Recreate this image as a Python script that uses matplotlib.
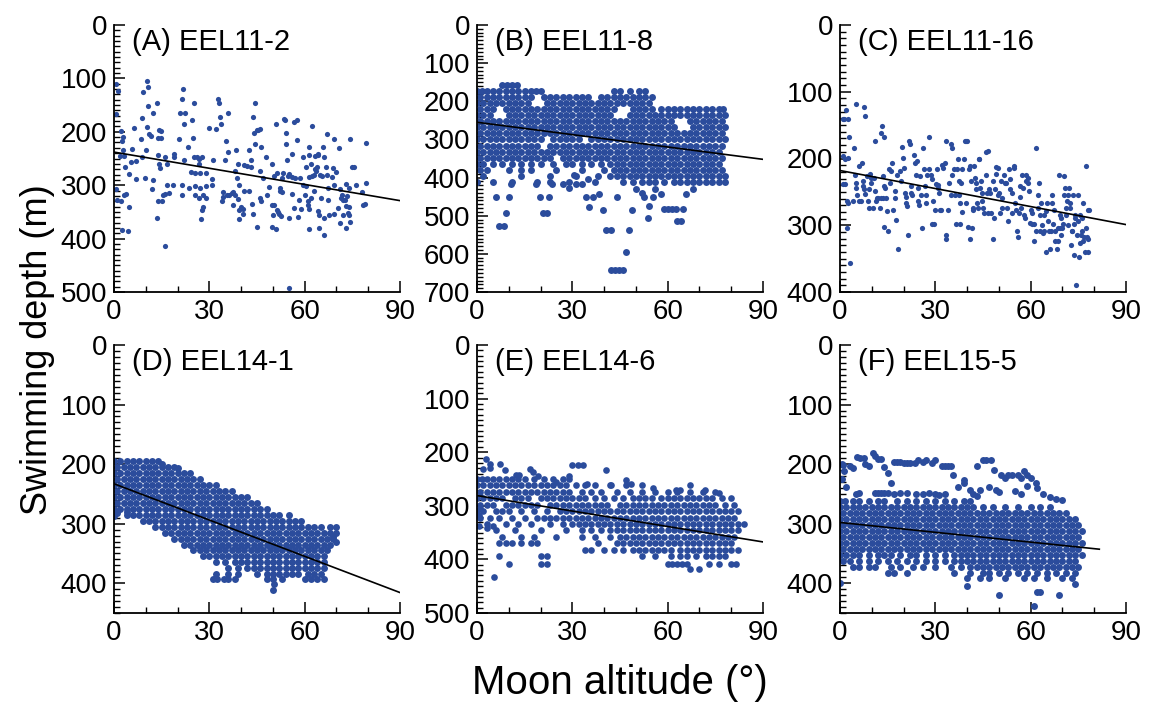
import matplotlib
matplotlib.use("Agg")
import matplotlib.pyplot as plt
from matplotlib.ticker import MultipleLocator

plt.rcParams['font.family'] = ['Liberation Sans', 'DejaVu Sans']

dot_color = '#2b4c9c'

# panel labels
titles = ["(A) EEL11-2", "(B) EEL11-8", "(C) EEL11-16",
          "(D) EEL14-1", "(E) EEL14-6", "(F) EEL15-5"]
ymax = [500, 700, 400, 450, 500, 450]
ytop_tick = [500, 700, 400, 400, 500, 400]

# regression lines: intercept (m), slope (m per degree), last altitude
fit_b0 = [238, 255, 218, 233, 281, 298]
fit_b1 = [1.01, 1.08, 0.90, 2.03, 0.96, 0.55]
fit_end = [90, 90, 90, 90, 90, 81.6]

# (A) sparse points: (moon altitude, depth)
A_points = [(0.6, 110), (1.4, 124), (0.6, 167), (2.1, 198), (2.7, 209), (2.5, 217), (2.9, 234), (1.9, 245),
    (3.2, 245), (0.6, 307), (1.0, 327), (2.1, 329), (2.5, 384), (4.4, 385), (4.8, 341), (3.2, 318),
    (3.8, 316), (3.6, 265), (4.8, 279), (5.5, 257), (5.6, 233), (6.9, 288), (6.9, 255), (6.3, 192),
    (8.4, 213), (8.8, 247), (8.7, 174), (9.2, 125), (10.7, 116), (10.3, 105), (10.8, 151), (10.3, 191),
    (11.1, 204), (11.6, 208), (9.8, 286), (10.0, 235), (12.4, 164), (12.4, 291), (11.9, 307), (13.4, 147),
    (13.7, 243), (14.1, 261), (14.5, 267), (14.7, 211), (14.0, 212), (14.3, 196), (14.8, 198), (13.7, 329),
    (13.4, 362), (15.1, 329), (15.3, 318), (16.0, 316), (16.2, 248), (16.6, 261), (15.9, 414), (16.6, 299),
    (17.2, 315), (18.5, 299), (18.9, 247), (18.9, 241), (20.4, 213), (20.8, 164), (21.3, 139), (21.8, 120),
    (22.3, 164), (22.1, 186), (22.1, 253), (21.4, 299), (21.4, 318), (23.7, 306), (23.3, 228), (24.8, 212),
    (25.1, 147), (24.4, 177), (24.2, 276), (25.3, 247), (25.4, 277), (25.4, 301), (25.6, 318), (26.0, 247),
    (26.7, 250), (26.9, 261), (27.1, 277), (26.9, 324), (27.1, 306), (27.8, 247), (27.9, 318), (27.7, 346),
    (28.1, 340), (27.3, 363), (28.8, 278), (29.0, 302), (28.8, 324), (29.8, 193), (30.9, 299), (30.9, 288),
    (31.3, 253), (32.1, 195), (32.7, 138), (33.0, 147), (33.2, 172), (33.6, 186), (34.0, 329), (34.4, 313),
    (34.4, 323), (35.0, 253), (35.3, 217), (35.5, 319), (36.0, 164), (35.9, 238), (36.1, 318), (37.2, 315),
    (37.6, 313), (38.0, 318), (37.6, 338), (38.2, 274), (38.4, 234), (38.6, 287), (39.0, 326), (39.1, 261),
    (39.3, 300), (39.3, 347), (39.3, 363), (40.1, 341), (40.5, 353), (40.7, 345), (41.0, 311), (41.0, 263),
    (41.8, 264), (42.4, 311), (42.5, 234), (43.1, 253), (43.1, 266), (43.3, 335), (43.7, 353), (43.7, 173),
    (44.1, 203), (44.3, 147), (44.5, 223), (44.9, 197), (44.9, 379), (45.4, 196), (45.8, 274), (46.0, 195),
    (46.4, 228), (46.0, 324), (46.2, 329), (46.8, 287), (47.9, 248), (48.1, 319), (48.7, 304), (49.6, 261),
    (49.8, 337), (50.0, 355), (49.8, 379), (50.2, 283), (50.4, 338), (51.0, 186), (51.2, 277), (51.0, 382),
    (51.2, 346), (51.7, 350), (52.1, 305), (51.9, 353), (52.3, 310), (52.5, 357), (52.9, 313), (52.9, 286),
    (53.1, 277), (53.6, 176), (53.9, 178), (54.2, 203), (54.2, 223), (54.4, 252), (54.6, 283), (55.0, 362),
    (55.2, 279), (55.9, 242), (55.9, 316), (56.1, 285), (56.5, 182), (56.7, 343), (57.1, 286), (57.5, 178),
    (57.5, 216), (57.8, 359), (58.2, 328), (58.4, 286), (58.8, 345), (59.4, 248), (59.6, 299), (60.1, 318),
    (60.5, 266), (60.5, 301), (60.9, 338), (61.1, 330), (61.3, 228), (61.3, 243), (61.3, 285), (61.5, 344),
    (61.5, 382), (62.0, 324), (62.0, 261), (62.2, 282), (62.4, 189), (62.8, 280), (62.8, 310), (63.2, 245),
    (63.4, 270), (63.6, 274), (63.8, 266), (64.1, 243), (64.3, 241), (64.1, 349), (64.5, 381), (64.5, 355),
    (64.9, 280), (65.1, 324), (65.5, 283), (65.7, 228), (66.2, 247), (66.2, 362), (66.2, 394), (66.8, 266),
    (67.0, 204), (67.0, 280), (67.2, 306), (67.4, 327), (67.6, 355), (68.5, 285), (69.1, 214), (68.9, 268),
    (69.1, 353), (69.3, 300), (69.9, 276), (70.4, 342), (70.8, 230), (71.0, 308), (71.2, 371), (71.4, 324),
    (71.6, 318), (72.0, 327), (72.2, 355), (72.7, 327), (72.9, 380), (73.1, 297), (73.1, 339), (73.3, 321),
    (73.5, 352), (73.9, 355), (73.9, 341), (74.1, 305), (74.3, 213), (74.3, 369), (75.0, 265), (75.4, 265),
    (76.2, 299), (77.9, 313), (78.5, 338), (78.9, 335), (79.2, 221), (79.2, 296), (55.0, 492)]

# (C) sparse points
C_points = [(0.8, 141), (1.4, 141), (2.4, 141), (1.9, 128), (0.8, 196), (1.7, 200), (2.4, 199), (2.9, 168),
    (1.0, 238), (1.7, 238), (2.1, 264), (2.4, 267), (2.1, 304), (3.1, 357), (4.0, 264), (4.4, 184),
    (5.0, 119), (4.8, 224), (5.0, 236), (5.0, 244), (5.5, 254), (5.9, 211), (6.1, 264), (6.5, 264),
    (6.9, 206), (7.3, 233), (7.1, 241), (7.5, 123), (8.0, 136), (7.6, 246), (8.0, 253), (8.4, 226),
    (8.8, 264), (9.0, 274), (9.4, 223), (9.2, 246), (9.6, 236), (9.8, 229), (10.5, 274), (10.8, 229),
    (10.9, 174), (11.1, 249), (11.3, 264), (11.8, 259), (12.1, 259), (12.6, 274), (13.0, 259), (13.4, 259),
    (12.8, 162), (13.2, 151), (13.8, 168), (13.6, 226), (13.8, 241), (14.2, 244), (14.5, 259), (14.9, 279),
    (13.7, 303), (15.1, 308), (15.5, 216), (16.0, 219), (15.7, 236), (16.5, 206), (16.8, 277), (17.2, 249),
    (17.4, 259), (17.6, 292), (18.2, 335), (17.8, 224), (18.8, 219), (19.3, 234), (19.5, 183), (19.7, 199),
    (20.2, 214), (20.3, 252), (20.7, 257), (20.7, 267), (21.0, 271), (21.4, 314), (21.8, 174), (22.0, 179),
    (22.2, 241), (22.4, 252), (22.8, 254), (23.2, 195), (23.7, 206), (23.9, 224), (24.1, 204), (24.5, 244),
    (24.7, 264), (24.9, 269), (25.1, 226), (25.5, 254), (25.8, 304), (26.0, 184), (26.4, 216), (26.8, 241),
    (27.0, 254), (27.2, 267), (27.4, 224), (27.9, 168), (28.1, 216), (28.5, 224), (28.9, 231), (29.1, 298),
    (29.3, 264), (29.7, 298), (29.9, 277), (30.2, 238), (30.4, 216), (30.8, 239), (30.8, 244), (31.2, 252),
    (31.4, 277), (31.8, 277), (32.0, 210), (32.5, 214), (32.9, 206), (33.3, 174), (33.5, 314), (33.5, 320),
    (33.9, 277), (34.3, 236), (34.8, 254), (35.0, 179), (35.2, 184), (35.4, 224), (35.8, 216), (36.2, 254),
    (36.6, 298), (36.9, 216), (37.1, 201), (37.3, 234), (37.5, 254), (37.7, 298), (37.9, 267), (38.1, 236),
    (38.3, 280), (38.5, 216), (39.0, 200), (39.2, 174), (39.6, 174), (40.0, 174), (39.8, 267), (40.2, 302),
    (40.6, 216), (40.8, 320), (41.0, 211), (41.3, 234), (41.7, 274), (41.5, 304), (41.9, 277), (42.3, 211),
    (42.5, 229), (42.7, 236), (42.9, 246), (43.1, 267), (43.4, 274), (43.6, 200), (43.8, 200), (44.2, 244),
    (44.4, 234), (44.6, 252), (44.8, 264), (45.0, 274), (45.4, 282), (45.9, 191), (46.1, 224), (46.3, 252),
    (46.5, 282), (46.7, 189), (46.9, 246), (47.3, 252), (47.5, 282), (48.0, 320), (48.2, 234), (48.4, 289),
    (48.8, 246), (49.0, 213), (49.2, 223), (49.6, 254), (49.8, 214), (50.0, 252), (50.5, 282), (50.7, 234),
    (51.1, 259), (51.1, 274), (51.5, 224), (51.9, 236), (52.1, 236), (52.6, 274), (52.8, 294), (53.2, 216),
    (53.4, 231), (53.6, 246), (54.0, 282), (54.2, 252), (54.7, 211), (54.9, 214), (55.1, 267), (55.3, 277),
    (55.7, 309), (55.9, 317), (56.3, 282), (56.5, 241), (56.8, 257), (57.0, 274), (57.4, 224), (57.6, 244),
    (57.8, 284), (58.2, 289), (58.4, 234), (58.6, 224), (59.1, 229), (59.3, 236), (59.5, 248), (59.7, 297),
    (60.1, 277), (60.3, 282), (60.5, 298), (60.9, 298), (61.1, 324), (61.6, 309), (61.8, 184), (62.2, 274),
    (62.4, 254), (62.6, 236), (62.8, 284), (63.0, 309), (63.2, 267), (63.5, 299), (63.9, 312), (64.1, 309),
    (64.3, 284), (64.7, 340), (64.9, 279), (65.1, 267), (65.3, 294), (65.8, 309), (66.2, 335), (66.4, 309),
    (66.6, 267), (66.8, 254), (67.0, 298), (67.4, 277), (67.6, 324), (67.8, 309), (68.3, 335), (68.5, 304),
    (68.7, 324), (68.9, 224), (69.1, 284), (69.3, 304), (69.5, 289), (69.7, 314), (69.9, 304), (70.1, 298),
    (70.4, 254), (70.6, 226), (70.8, 244), (71.0, 284), (71.2, 274), (71.4, 264), (71.6, 299), (71.8, 254),
    (72.0, 244), (72.3, 274), (72.5, 267), (72.7, 329), (72.9, 309), (73.1, 309), (73.3, 254), (73.5, 298),
    (73.7, 345), (73.9, 289), (74.1, 284), (74.3, 390), (74.6, 314), (74.8, 294), (75.0, 254), (75.2, 347),
    (75.4, 284), (75.6, 327), (75.8, 314), (76.0, 289), (76.2, 309), (76.4, 267), (76.6, 324), (76.9, 317),
    (77.1, 340), (77.3, 304), (77.5, 211), (77.7, 317), (77.9, 277), (78.1, 320), (78.3, 277), (77.9, 340)]

# (B) dense panel: depth rows (m) with the altitudes read along each row
B_rows = [
    (156, [8, 9.5, 11, 12.5]),
    (172, [0, 1.5, 3, 5, 7, 9, 11, 13, 15, 17, 18.5, 20, 43, 45, 48, 51, 53]),
    (188, [1, 3, 5, 7, 9, 11, 13, 15, 17, 21, 23, 25, 27, 29, 31, 33, 35, 39, 41, 43, 45, 47, 49, 51, 53, 55]),
    (204, [0, 2, 4, 6, 8, 10, 12, 14, 16, 22, 24, 26, 28, 30, 32, 34, 36, 38, 40, 42, 44, 46, 48, 50, 52, 54]),
    (220, [1, 3, 5, 9, 11, 13, 15, 17, 19, 21, 23, 25, 27, 29, 31, 33, 35, 37, 39, 41, 43, 49, 51, 53, 55, 58,
           60, 62, 64, 66, 68, 70, 72, 74, 76, 77.5]),
    (236, [0, 2, 4, 10, 12, 14, 16, 18, 20, 22, 24, 26, 28, 30, 32, 34, 36, 38, 40, 42, 48, 50, 52, 54, 56, 58,
           60, 62, 64, 66, 68, 70, 72, 74, 76, 78]),
    (252, [1, 3, 5, 7, 9, 11, 13, 15, 17, 19, 21, 23, 25, 27, 29, 31, 33, 35, 37, 39, 41, 43, 45, 47, 49, 51,
           53, 55, 57, 59, 61, 67, 69, 71, 73, 75, 77]),
    (268, [0, 2, 4, 6, 8, 10, 12, 14, 16, 18, 20, 22, 24, 26, 28, 30, 32, 34, 36, 38, 40, 42, 44, 46, 48, 50,
           52, 54, 56, 58, 60, 62, 68, 70, 72, 74, 76, 78]),
    (284, [1, 3, 5, 7, 9, 11, 13, 15, 17, 19, 21, 23, 25, 27, 29, 31, 33, 35, 37, 39, 41, 43, 45, 47, 49, 51,
           53, 55, 57, 59, 61, 63, 65, 67, 69, 71, 73, 75, 77]),
    (300, [0, 2, 4, 6, 8, 10, 12, 14, 16, 18, 20, 24, 26, 28, 30, 32, 36, 38, 40, 42, 44, 46, 48, 50, 52, 54,
           56, 58, 60, 62, 64, 66, 68, 70, 72, 74, 76, 78]),
    (316, [1, 3, 5, 7, 9, 11, 13, 15, 17, 19, 23, 25, 27, 29, 31, 33, 35, 37, 39, 41, 43, 45, 47, 49, 51, 53,
           55, 57, 59, 61, 63, 65, 67, 69, 71, 73, 75, 77]),
    (332, [0, 2, 4, 6, 8, 10, 12, 14, 16, 18, 20, 22, 24, 26, 28, 30, 32, 34, 36, 38, 40, 42, 44, 46, 48, 50,
           52, 54, 56, 58, 60, 62, 64, 66, 68, 70, 72, 74, 76]),
    (348, [1, 3, 5, 7, 9, 11, 13, 15, 17, 19, 21, 23, 27, 29, 31, 33, 35, 37, 39, 41, 43, 45, 47, 49, 51, 53,
           55, 57, 59, 61, 63, 65, 67, 69, 71, 73, 75, 77]),
    (364, [0, 2, 5, 8, 11, 14, 17, 20, 24, 28, 30, 33, 36, 39, 42, 44, 46, 48, 50, 52, 54, 56, 58, 60, 62, 64,
           66, 68, 70, 72, 74, 76]),
    (380, [1, 3, 10, 14, 17, 25, 33, 40, 43, 45, 47, 49, 51, 53, 55, 57, 59, 61, 63, 65, 67, 69, 71, 73, 75, 77]),
    (396, [2, 14, 23, 31, 38, 42, 44, 46, 48, 50, 52, 54, 56, 58, 60, 62, 64, 66, 68, 70, 72, 74, 76, 78]),
    (412, [0, 5, 11, 19, 23, 29, 37, 46, 49, 52, 54, 56, 59, 62, 64, 66, 68, 70, 72, 74, 76, 78]),
]
B_extra = [(6, 452), (10, 452), (9, 493), (7, 528), (8.4, 528), (10.8, 416), (19.7, 452), (22.6, 452),
    (20.7, 493), (22, 493), (23.6, 416), (18.5, 416), (34.3, 452), (36.4, 452), (35.4, 477), (39.5, 486),
    (40.6, 537), (42.2, 537), (42.2, 643), (43.5, 643), (44.8, 643), (46, 643), (46.9, 596), (47.9, 537),
    (48.7, 486), (43.9, 452), (38.5, 442), (52.7, 452), (53.8, 506), (54.2, 475), (55.3, 452), (58, 442),
    (58.9, 482), (60.2, 482), (61.4, 482), (62.6, 482), (62.8, 515), (64.1, 515), (64.9, 482), (65.7, 442),
    (29, 427), (30.6, 392), (27, 416), (31, 416), (33, 416), (35, 405), (50, 430), (52, 440), (56, 430),
    (68, 430)]

# (D) dense panel
D_rows = [
    (195, [0, 2, 4, 6, 8, 10, 12, 14]),
    (205, [1, 3, 5, 7, 9, 11, 13, 15, 17, 19]),
    (215, [0, 2, 4, 6, 8, 10, 12, 14, 16, 18, 20, 22, 24]),
    (225, [1, 3, 5, 7, 9, 11, 13, 15, 17, 19, 21, 23, 25, 27]),
    (235, [0, 2, 4, 6, 8, 10, 12, 14, 16, 18, 20, 22, 24, 26, 28, 30, 32]),
    (245, [1, 3, 5, 7, 9, 11, 13, 15, 17, 19, 21, 23, 25, 27, 29, 31, 33, 35, 37]),
    (255, [0, 2, 4, 6, 8, 10, 12, 14, 16, 18, 20, 22, 24, 26, 28, 30, 32, 34, 36, 38, 40, 42]),
    (265, [1, 3, 5, 7, 9, 11, 13, 15, 17, 19, 21, 23, 25, 27, 29, 31, 33, 35, 37, 39, 41, 43, 45]),
    (275, [0, 2, 4, 6, 8, 10, 12, 14, 16, 18, 20, 22, 24, 26, 28, 30, 32, 34, 36, 38, 40, 42, 44, 46, 48]),
    (285, [4, 6, 8, 10, 12, 14, 16, 18, 20, 22, 24, 26, 28, 30, 32, 34, 36, 38, 40, 42, 44, 46, 48, 50, 52, 55]),
    (295, [9, 11, 13, 15, 17, 19, 21, 23, 25, 27, 29, 31, 33, 35, 37, 39, 41, 43, 45, 47, 49, 51, 53, 55, 57, 59]),
    (305, [13, 15, 17, 19, 21, 23, 25, 27, 29, 31, 33, 35, 37, 39, 41, 43, 45, 47, 49, 51, 53, 55, 57, 59, 61,
           63, 65, 68, 70]),
    (315, [16, 18, 20, 22, 24, 26, 28, 30, 32, 34, 36, 38, 40, 42, 44, 46, 48, 50, 52, 54, 56, 58, 60, 62, 64,
           66, 68, 70]),
    (325, [19, 21, 23, 25, 27, 29, 31, 33, 35, 37, 39, 41, 43, 45, 47, 49, 51, 53, 55, 57, 59, 61, 63, 65, 67, 69]),
    (335, [22, 24, 26, 28, 30, 32, 34, 36, 38, 40, 42, 44, 46, 48, 50, 52, 54, 56, 58, 60, 62, 64, 66, 68]),
    (345, [25, 27, 29, 31, 33, 35, 37, 39, 41, 43, 45, 47, 49, 51, 53, 55, 57, 59, 61, 63, 65, 67]),
    (355, [28, 30, 32, 34, 36, 38, 40, 42, 44, 46, 48, 50, 52, 54, 56, 58, 60, 62, 64, 66]),
    (365, [32, 35, 38, 40, 42, 44, 46, 48, 50, 52, 54, 56, 58, 60, 62, 64, 66]),
    (375, [36, 39, 42, 44, 46, 48, 50, 52, 54, 56, 58, 60, 62, 64, 66]),
    (385, [32, 36, 39, 45, 48, 50, 52, 54, 56, 58, 61, 63, 65]),
    (393, [31, 32.5, 34.5, 36, 38, 48, 50, 53, 60, 62, 64, 66]),
]
D_extra = [(50, 411), (50.5, 402), (15, 200), (20, 207), (0, 287), (1, 282), (69, 322), (70, 330), (4, 280)]

# (E) dense panel
E_rows = [
    (250, [0, 1.5, 3, 5, 7, 9, 11, 13, 15, 18, 21, 24, 27, 29]),
    (262, [0, 2, 4, 6, 8, 10, 12, 14, 16, 18, 20, 22, 24, 26, 28, 31, 34, 37, 42, 47, 52]),
    (274, [1, 3, 5, 7, 9, 11, 13, 15, 17, 19, 21, 23, 25, 27, 29, 33, 36, 39, 44, 48, 52, 56, 60, 63, 67, 71, 75]),
    (286, [0, 2, 4, 6, 8, 12, 14, 16, 20, 22, 24, 26, 28, 30, 32, 34, 37, 40, 43, 46, 49, 51, 53, 55, 58, 60,
           62, 64, 66, 68, 70, 72, 74, 77, 80]),
    (298, [1, 3, 5, 9, 11, 13, 15, 17, 19, 23, 25, 27, 29, 31, 33, 35, 37, 39, 41, 45, 47, 49, 51, 53, 55, 57,
           59, 61, 63, 65, 67, 69, 71, 73, 75, 78, 81]),
    (310, [0, 2, 6, 8, 10, 14, 18, 22, 26, 28, 30, 32, 34, 36, 38, 40, 42, 44, 46, 48, 50, 52, 54, 56, 58, 60,
           62, 64, 66, 68, 70, 72, 74, 76, 78, 80, 82]),
    (322, [1, 4, 7, 11, 15, 19, 21, 23, 25, 27, 29, 31, 33, 35, 37, 39, 41, 43, 45, 47, 49, 51, 53, 55, 57, 59,
           61, 63, 65, 67, 69, 71, 73, 75, 77, 79, 81]),
    (334, [3, 9, 13, 17, 23, 27, 30, 32, 34, 36, 38, 40, 42, 44, 46, 48, 50, 52, 54, 56, 58, 60, 62, 64, 66, 68,
           70, 72, 74, 76, 78, 80, 82, 84]),
    (346, [6, 12, 20, 28, 33, 36, 39, 42, 44, 46, 48, 50, 52, 54, 56, 58, 60, 62, 64, 66, 68, 70, 72, 74, 76, 78,
           80, 82]),
    (358, [8, 14, 18, 25, 33, 37, 42, 45, 47, 49, 51, 53, 55, 57, 59, 61, 63, 65, 67, 69, 71, 73, 75, 77, 79, 81]),
    (370, [7, 9, 11, 14, 17, 19, 38, 44, 46, 48, 50, 52, 54, 56, 58, 60, 62, 64, 66, 68, 70, 72, 74, 76, 78, 80]),
    (382, [34, 36, 40, 43, 46, 49, 51, 53, 55, 57, 59, 61, 64, 66, 68, 70, 72, 74, 76, 78, 80, 82]),
    (394, [7, 20, 22, 52, 56, 61, 64, 66, 69, 72, 74, 76, 78]),
    (408, [10, 20, 22, 60, 61.5, 63, 64.5, 66, 73, 76, 80, 81.5]),
]
E_extra = [(2.7, 212), (1.9, 232), (4.2, 222), (4.2, 230), (7.3, 222), (8.9, 233), (12.2, 243), (13.2, 243),
    (16.6, 232), (17.6, 237), (19.2, 245), (25, 255), (28.8, 245), (30, 224), (31.7, 224), (33.4, 224),
    (34.6, 260), (40.7, 233), (42.3, 262), (47, 251), (48.6, 260), (55.4, 266), (62.7, 270), (63.8, 270),
    (67, 262), (71.7, 271), (76.2, 277), (67, 417), (70, 417), (5.5, 433), (0.5, 317), (0.5, 337), (3, 342),
    (5, 338), (1, 305)]

# (F) dense panel
F_rows = [
    (262, [0, 1.5, 4, 6, 9, 12, 14, 18, 21, 24, 27, 30, 33, 36, 39, 41]),
    (272, [0, 2, 4, 6, 8, 10, 12, 14, 16, 18, 20, 22, 24, 26, 28, 30, 32, 34, 36, 38, 40, 42, 45, 48, 52, 56,
           60, 63, 66]),
    (282, [1, 3, 5, 7, 9, 11, 13, 15, 17, 19, 21, 23, 25, 27, 29, 31, 33, 35, 37, 39, 41, 43, 45, 47, 49, 51,
           53, 55, 57, 59, 61, 63, 65, 67, 69, 71]),
    (292, [0, 2, 4, 6, 8, 10, 12, 14, 16, 18, 20, 22, 24, 26, 28, 30, 32, 34, 36, 38, 40, 42, 44, 46, 48, 50,
           52, 54, 56, 58, 60, 62, 64, 66, 68, 70, 72, 74]),
    (302, [1, 3, 5, 7, 9, 11, 13, 15, 17, 19, 21, 23, 25, 27, 29, 31, 33, 35, 37, 39, 41, 43, 45, 47, 49, 51,
           53, 55, 57, 59, 61, 63, 65, 67, 69, 71, 73, 75]),
    (312, [0, 2, 4, 6, 8, 10, 12, 14, 16, 18, 20, 22, 24, 26, 28, 30, 32, 34, 36, 38, 40, 42, 44, 46, 48, 50,
           52, 54, 56, 58, 60, 62, 64, 66, 68, 70, 72, 74, 76]),
    (322, [1, 3, 5, 7, 9, 11, 13, 15, 17, 19, 21, 23, 25, 27, 29, 31, 33, 35, 37, 39, 41, 43, 45, 47, 49, 51,
           53, 55, 57, 59, 61, 63, 65, 67, 69, 71, 73, 75]),
    (332, [0, 2, 4, 6, 8, 10, 12, 14, 16, 18, 20, 22, 24, 26, 28, 30, 32, 34, 36, 38, 40, 42, 44, 46, 48, 50,
           52, 54, 56, 58, 60, 62, 64, 66, 68, 70, 72, 74, 76]),
    (342, [1, 3, 5, 7, 9, 11, 13, 15, 17, 19, 21, 23, 25, 27, 29, 31, 33, 35, 37, 39, 41, 43, 45, 47, 49, 51,
           53, 55, 57, 59, 61, 63, 65, 67, 69, 71, 73, 75]),
    (352, [0, 2, 4, 6, 9, 12, 14, 16, 19, 22, 24, 27, 30, 33, 36, 38, 40, 42, 44, 46, 48, 50, 52, 54, 56, 58,
           60, 62, 64, 66, 68, 70, 72, 74, 76]),
    (362, [1, 3, 6, 9, 12, 15, 18, 21, 24, 27, 30, 33, 36, 38, 40, 42, 44, 46, 48, 50, 52, 54, 56, 58, 60, 62,
           64, 66, 68, 70, 72, 74]),
    (372, [4, 6, 9, 11, 16, 19, 23, 26, 30, 35, 38, 41, 43, 45, 47, 49, 51, 53, 55, 57, 59, 61, 63, 65, 67, 69,
           71, 73, 75]),
    (382, [15, 17, 21, 36, 41, 45, 47, 50, 53, 56, 59, 62, 65, 68, 71, 74]),
    (392, [40, 44, 47, 52, 58, 61, 65, 70, 73]),
]
F_extra = [(0.5, 200), (1, 201), (3, 204), (4, 206), (5.2, 188), (6.3, 190), (7.5, 190), (8, 200), (9, 203),
    (10.5, 182), (11, 186), (12, 192), (13, 191), (14, 205), (15, 215), (16, 231), (17, 196), (18, 196),
    (19, 196), (20, 198), (21, 198), (22, 198), (23.5, 198), (24.6, 193), (26, 196), (27, 193), (28.8, 198),
    (29.8, 193), (32, 204), (33, 204), (34, 204), (35, 204), (35.6, 218), (39, 227), (43, 204), (45, 193),
    (46, 193), (47.6, 193), (48.6, 210), (50.7, 218), (52, 224), (53, 218), (54, 218), (56, 218), (57, 224),
    (58, 212), (59, 218), (60, 224), (61.7, 232), (2, 238), (5, 250), (6, 249), (11, 249), (12, 249), (13, 249),
    (14, 249), (15, 249), (17, 250), (19, 249), (21, 248), (24, 251), (26, 250), (28, 248), (30, 250), (31, 252),
    (33, 250), (37, 238), (39, 232), (41, 243), (42, 250), (43, 253), (44, 244), (47, 238), (49, 244), (50, 246),
    (55, 245), (57, 250), (59, 236), (62, 240), (64, 250), (66, 256), (68, 258), (70, 260), (0.7, 225),
    (1.2, 212), (0, 400), (40, 404), (50, 420), (61, 438), (62, 414), (63, 414), (69, 420), (74, 402)]


def unpack_points(points):
    return [p[0] for p in points], [p[1] for p in points]


def unpack_rows(rows, extra):
    alt, depth = [], []
    for d, xs in rows:
        alt += xs
        depth += [d] * len(xs)
    ex, ey = unpack_points(extra)
    return alt + ex, depth + ey


panel_data = [
    unpack_points(A_points),
    unpack_rows(B_rows, B_extra),
    unpack_points(C_points),
    unpack_rows(D_rows, D_extra),
    unpack_rows(E_rows, E_extra),
    unpack_rows(F_rows, F_extra),
]
dot_size = [14, 25, 14, 25, 23, 25]

fig = plt.figure(figsize=(11.5, 7.04), dpi=100)
lefts = [114 / 1150, 477 / 1150, 840 / 1150]
width = 286 / 1150

for i in range(6):
    row, col = divmod(i, 3)
    if row == 0:
        ax = fig.add_axes([lefts[col], 1 - 292 / 704, width, 267 / 704])
    else:
        ax = fig.add_axes([lefts[col], 1 - 613 / 704, width, 268 / 704])

    alt, depth = panel_data[i]
    ax.scatter(alt, depth, s=dot_size[i], color=dot_color, linewidths=0, zorder=2)

    lx = [0, fit_end[i]]
    ly = [fit_b0[i], fit_b0[i] + fit_b1[i] * fit_end[i]]
    ax.plot(lx, ly, color='black', lw=1.2, zorder=3)

    ax.set_xlim(0, 90)
    ax.set_ylim(ymax[i], 0)
    ax.set_xticks([0, 30, 60, 90])
    ax.xaxis.set_minor_locator(MultipleLocator(10))
    ax.set_yticks(range(0, ytop_tick[i] + 1, 100))
    ax.yaxis.set_minor_locator(MultipleLocator(10))
    ax.tick_params(which='major', direction='in', length=8, width=1.1, labelsize=20, pad=5)
    ax.tick_params(which='minor', direction='in', length=4, width=1.0)
    ax.spines['top'].set_visible(False)
    ax.spines['right'].set_visible(False)
    for s in ['left', 'bottom']:
        ax.spines[s].set_linewidth(1.3)

    ax.text(0.063, 0.905, titles[i], transform=ax.transAxes, fontsize=21, va='baseline', ha='left')

fig.text(38 / 1150, 1 - 350 / 704, "Swimming depth (m)", rotation=90, fontsize=26, ha='center', va='center')
fig.text(620 / 1150, 1 - 683 / 704, "Moon altitude (\u00b0)", fontsize=29, ha='center', va='center')

fig.savefig("out.png", dpi=100)
